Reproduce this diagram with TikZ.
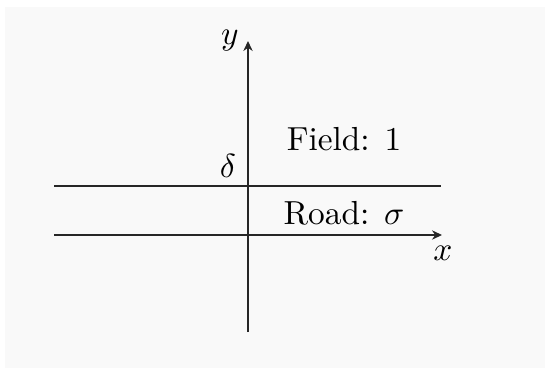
\documentclass[tikz,border=0pt]{standalone}
\usetikzlibrary{arrows.meta}
\definecolor{panel}{HTML}{F9F9F9}
\begin{document}
\begin{tikzpicture}[x=0.3pt,y=-0.3pt,
  axisline/.style={draw=black!85,line width=0.4pt},
  axisarrow/.style={axisline,-{Stealth[length=3pt,width=2.8pt]}},
  lbl/.style={inner sep=0pt,font=\normalsize}]
\useasboundingbox (0,0) rectangle (545,369);
\fill[white] (0,0) rectangle (545,369);
\fill[panel] (5,7) rectangle (545,368);
% coordinates
\coordinate (xl) at (54,235);
\coordinate (xr) at (442,235);
\coordinate (yb) at (248,332);
\coordinate (yt) at (248,41);
\coordinate (rl) at (54,186);
\coordinate (rr) at (441,186);
% lines
\draw[axisline] (rl) -- (rr);
\draw[axisarrow] (xl) -- (xr);
\draw[axisarrow] (yb) -- (yt);
% labels
\node[lbl] (ylab) at (230,41) {$y$};
\node[lbl] (xlab) at (443,253) {$x$};
\node[lbl] (dlab) at (228,166) {$\delta$};
\node[lbl] (field) at (344,139) {Field: 1};
\node[lbl] (road) at (344,213) {Road: $\sigma$};
\end{tikzpicture}
\end{document}
